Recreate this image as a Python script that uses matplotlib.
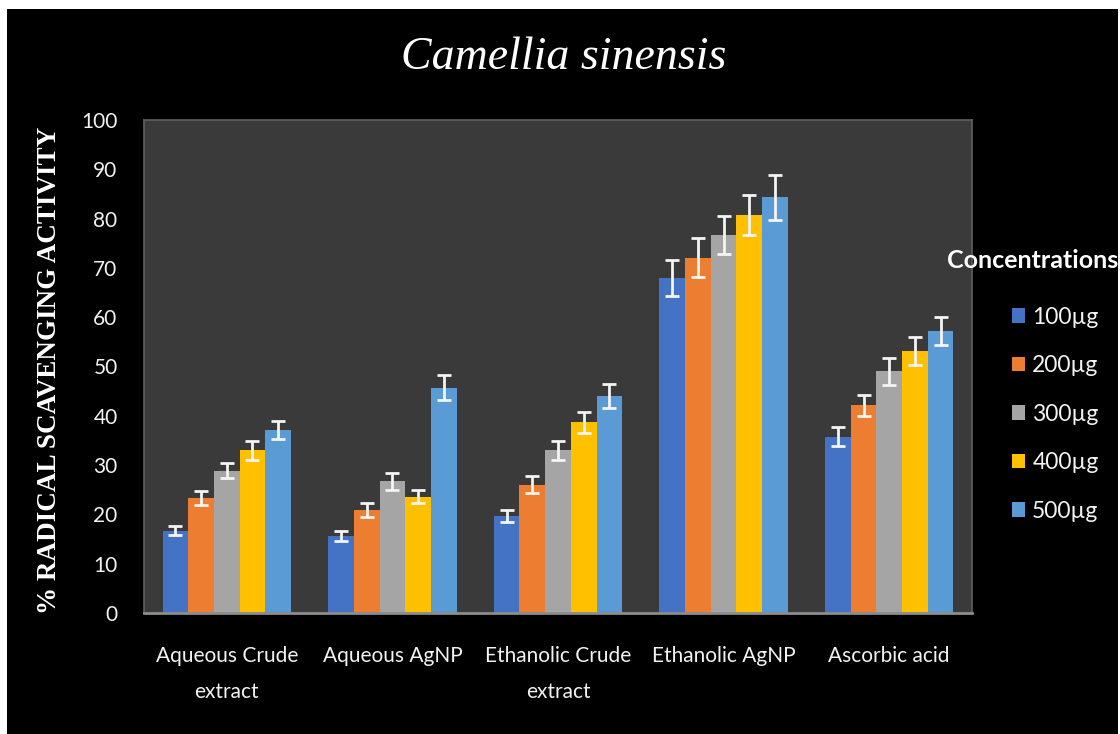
import numpy as np
import matplotlib.pyplot as plt
from matplotlib.patches import Rectangle

# groups on the x axis and the concentrations (series)
groups = ["Aqueous Crude\nextract", "Aqueous AgNP", "Ethanolic Crude\nextract",
          "Ethanolic AgNP", "Ascorbic acid"]
concentrations = ["100µg", "200µg", "300µg", "400µg", "500µg"]

# % radical scavenging activity, one list per concentration
val_100 = [16.7, 15.7, 19.7, 68.0, 35.8]
val_200 = [23.3, 20.9, 26.0, 72.1, 42.1]
val_300 = [28.9, 26.7, 33.0, 76.7, 49.0]
val_400 = [33.0, 23.6, 38.7, 80.7, 53.1]
val_500 = [37.1, 45.7, 44.0, 84.3, 57.2]

err_100 = [0.9, 1.0, 1.2, 3.6, 1.9]
err_200 = [1.35, 1.35, 1.7, 4.0, 2.2]
err_300 = [1.6, 1.7, 1.9, 3.9, 2.8]
err_400 = [1.9, 1.35, 2.1, 4.1, 2.8]
err_500 = [1.9, 2.5, 2.4, 4.5, 2.9]

values = [val_100, val_200, val_300, val_400, val_500]
errors = [err_100, err_200, err_300, err_400, err_500]
colors = ["#4472C4", "#ED7D31", "#A5A5A5", "#FFC000", "#5B9BD5"]

fig = plt.figure(figsize=(11.2, 7.34), dpi=100, facecolor="white")
# black canvas with a thin white edge at top / left like the screenshot
fig.patches.append(Rectangle((7 / 1120, 0), 1111 / 1120, 725 / 734,
                             transform=fig.transFigure, facecolor="black",
                             edgecolor="none", zorder=-10))

ax = fig.add_axes([144 / 1120, 121 / 734, 828 / 1120, 493 / 734])
ax.set_zorder(2)
ax.set_facecolor("#3a3a3a")

x = np.arange(len(groups))
w = 0.155
bars = []
for i in range(len(concentrations)):
  pos = x + (i - 2) * w
  b = ax.bar(pos, values[i], width=w, color=colors[i], label=concentrations[i], zorder=2)
  ax.errorbar(pos, values[i], yerr=errors[i], fmt="none", ecolor="#f4f4f4",
              elinewidth=2, capsize=5, capthick=2, zorder=3)
  bars.append(b)

ax.set_xlim(-0.5, len(groups) - 0.5)
ax.set_ylim(0, 100)
ax.set_yticks(range(0, 101, 10))
ax.set_xticks(x)
ax.set_xticklabels(groups, family="Lato", fontsize=15, color="#f2f2f2", linespacing=2.0)
for lab in ax.get_yticklabels():
  lab.set_family("Lato")
  lab.set_fontsize(15)
  lab.set_color("#f2f2f2")
ax.tick_params(axis="x", length=0, pad=24)
ax.tick_params(axis="y", length=0, pad=19)
for s in ax.spines.values():
  s.set_color("#606060")
  s.set_linewidth(1.2)
ax.spines["bottom"].set_color("#8c8c8c")
ax.spines["bottom"].set_linewidth(2)

fig.text(564 / 1120, 1 - 58 / 734, "Camellia sinensis", ha="center", va="center",
         family="Liberation Serif", style="italic", fontsize=33, color="white")
fig.text(50 / 1120, 1 - 370 / 734, "% RADICAL SCAVENGING ACTIVITY", rotation=90,
         ha="center", va="center", family="Liberation Serif", weight="bold",
         fontsize=19.5, color="white")
fig.text(947 / 1120, 1 - 260 / 734, "Concentrations", ha="left", va="center",
         family="Lato", weight="bold", fontsize=18, color="white")

leg = fig.legend(handles=bars, labels=concentrations, loc="upper left",
                 bbox_to_anchor=(991 / 1120, 1 - 286 / 734), frameon=False,
                 handlelength=0.6, handleheight=0.6, handletextpad=0.3,
                 labelspacing=1.2, prop={"family": "Lato", "size": 16.5})
for t in leg.get_texts():
  t.set_color("#f2f2f2")

fig.savefig("out.png", dpi=100, facecolor="white")
